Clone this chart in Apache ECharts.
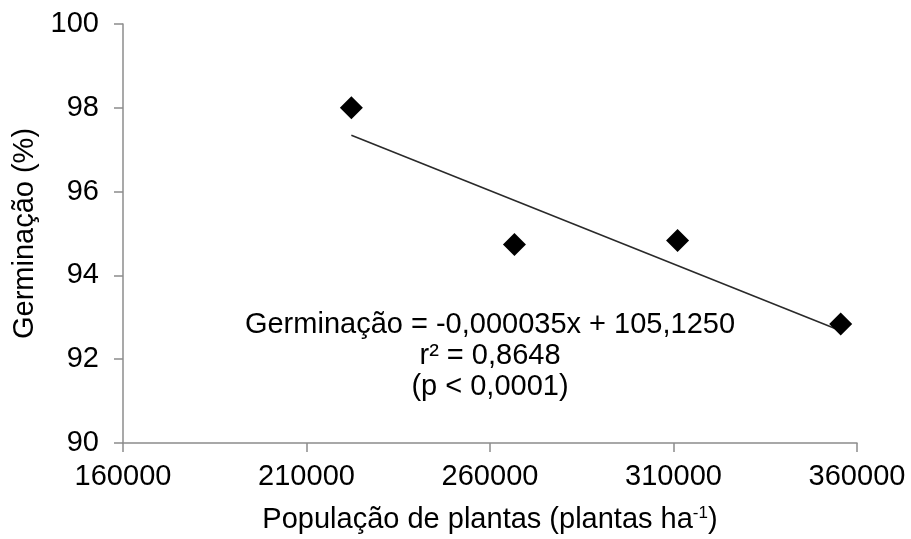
<!DOCTYPE html>
<html>
<head>
<meta charset="utf-8">
<script src="https://cdn.jsdelivr.net/npm/echarts@6/dist/echarts.min.js"></script>
<style>
  html, body { margin: 0; padding: 0; background: #fff; }
  #chart { width: 911px; height: 539px; }
</style>
</head>
<body>
<div id="chart"></div>
<script>
// Plant population (plants per hectare) and germination (%)
const populacao = [222222, 266667, 311111, 355556];
const germinacao = [98.0, 94.74, 94.83, 92.84];

// Fitted regression, as reported in the equation label
const coefAngular = -0.000035;
const intercepto = 105.125;

const xTicks = { min: 160000, max: 360000, interval: 50000 };
const yTicks = { min: 90, max: 100, interval: 2 };

const eqLines = [
  'Germinação = -0,000035x + 105,1250',
  'r² = 0,8648',
  '(p < 0,0001)'
];

const pontos = populacao.map((p, i) => [p, germinacao[i]]);
const xIni = populacao[0], xFim = populacao[populacao.length - 1];
const reta = [
  [xIni, coefAngular * xIni + intercepto],
  [xFim, coefAngular * xFim + intercepto]
];

const font = '"Liberation Sans", Arial, sans-serif';
const fs = 29;
const axisGray = '#8c8c8c';

const chart = echarts.init(document.getElementById('chart'), null, { renderer: 'canvas' });
chart.setOption({
  animation: false,
  backgroundColor: '#ffffff',
  grid: { left: 123, right: 54, top: 24, bottom: 95, containLabel: false },
  xAxis: {
    type: 'value',
    min: xTicks.min, max: xTicks.max, interval: xTicks.interval,
    name: 'População de plantas (plantas ha{sup|-1})',
    nameLocation: 'middle',
    nameGap: 62,
    nameTextStyle: {
      fontFamily: font, fontSize: fs, color: '#000',
      rich: { sup: { fontFamily: font, fontSize: 17, color: '#000', padding: [0, 0, 12, 0] } }
    },
    axisLine: { show: true, lineStyle: { color: axisGray, width: 1.5 } },
    axisTick: { show: true, length: 9, lineStyle: { color: axisGray, width: 1.5 } },
    axisLabel: {
      fontFamily: font, fontSize: fs, color: '#000', margin: 19,
      formatter: v => String(v)
    },
    splitLine: { show: false }
  },
  yAxis: {
    type: 'value',
    min: yTicks.min, max: yTicks.max, interval: yTicks.interval,
    name: 'Germinação (%)',
    nameLocation: 'middle',
    nameGap: 83,
    nameTextStyle: { fontFamily: font, fontSize: fs, color: '#000' },
    axisLine: { show: true, lineStyle: { color: axisGray, width: 1.5 } },
    axisTick: { show: true, length: 9, lineStyle: { color: axisGray, width: 1.5 } },
    axisLabel: { fontFamily: font, fontSize: fs, color: '#000', margin: 24 },
    splitLine: { show: false }
  },
  series: [
    {
      type: 'line',
      data: reta,
      symbol: 'none',
      lineStyle: { color: '#2a2a2a', width: 1.6 },
      z: 2
    },
    {
      type: 'scatter',
      data: pontos,
      symbol: 'diamond',
      symbolSize: 23,
      itemStyle: { color: '#000', opacity: 1 },
      z: 3
    }
  ]
});

// Equation block, centred under the fitted line
const centro = chart.convertToPixel({ gridIndex: 0 }, [260000, 92.81]);
chart.setOption({
  graphic: eqLines.map((t, i) => ({
    type: 'text',
    x: centro[0],
    y: centro[1] + i * 31,
    style: {
      text: t,
      font: fs + 'px ' + font,
      fill: '#000',
      align: 'center',
      verticalAlign: 'middle'
    }
  }))
});
</script>
</body>
</html>
